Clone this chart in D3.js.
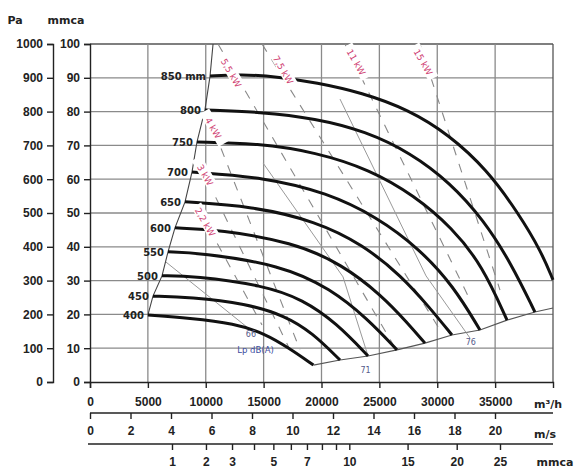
<!DOCTYPE html>
<html>
<head>
<meta charset="utf-8">
<script src="https://cdn.jsdelivr.net/npm/d3@7"></script>
<style>
  body { margin: 0; background: #fff; }
  svg { display: block; font-family: "DejaVu Sans", sans-serif; }
  .tick text { fill: #222; font-weight: bold; }
</style>
</head>
<body>
<div id="chart"></div>
<script>
/*==== DATA (flow m3/h, pressure mmca) ====*/
var paTicks   = [0, 100, 200, 300, 400, 500, 600, 700, 800, 900, 1000];
var mmcaTicks = [0, 10, 20, 30, 40, 50, 60, 70, 80, 90, 100];
var flowTicks = [0, 5000, 10000, 15000, 20000, 25000, 30000, 35000];
var gridFlow  = [5000, 10000, 15000, 20000, 25000, 30000, 35000, 40000];
var speedTicks = [0, 2, 4, 6, 8, 10, 12, 14, 16, 18, 20];
var dynTicks   = [1, 2, 3, 4, 5, 6, 7, 8, 9, 10, 15, 20, 25];
var dynLabels  = [1, 2, 3, 5, 7, 10, 15, 20, 25];

var fanNames = ["400", "450", "500", "550", "600", "650", "700", "750", "800", "850 mm"];
var fan400 = [[5000,19.8],[8600,18.9],[12500,17.3],[15100,14.3],[17200,10.0],[19300,5.0]];
var fan450 = [[5440,25.4],[8640,25.1],[13500,23.2],[16850,19.6],[19200,14.6],[21600,6.5]];
var fan500 = [[6220,31.4],[9000,31.4],[15000,28.6],[18400,24.4],[21300,17.4],[24020,7.7]];
var fan550 = [[6740,38.5],[9500,38.2],[16500,34.6],[20800,27.6],[24000,18.6],[26520,9.5]];
var fan600 = [[7340,45.6],[11230,45.0],[17500,41.4],[21800,34.8],[25200,25.6],[27400,17.6],[28940,11.5]];
var fan650 = [[8210,53.3],[14000,52.0],[19500,47.6],[23600,40.6],[26900,31.4],[29400,21.8],[31270,13.9]];
var fan700 = [[8810,62.1],[15000,60.6],[20500,56.0],[24800,48.8],[28400,39.6],[31400,28.4],[33690,15.4]];
var fan750 = [[9240,71.0],[14500,70.6],[19500,68.0],[24200,62.8],[28000,55.2],[31300,45.6],[33900,34.4],[36030,18.3]];
var fan800 = [[9930,80.5],[14690,79.9],[19500,78.0],[23800,74.2],[27700,67.8],[31100,59.0],[34000,48.0],[36400,35.0],[38440,20.7]];
var fan850 = [[10370,90.5],[12960,91.1],[16410,90.2],[19500,88.6],[23500,85.6],[27500,80.6],[31000,73.2],[34300,62.8],[37000,50.0],[39000,38.5],[40000,30.2]];
var fanCurves = [fan400, fan450, fan500, fan550, fan600, fan650, fan700, fan750, fan800, fan850];

// left limit and lower limit of the field
var leftLimit  = [[5000,19.8],[5440,25.4],[6220,31.4],[6740,38.5],[7340,45.6],[8210,53.3],[8810,62.1],[9240,71.0],[9930,80.5],[10370,90.5],[10630,100]];
var lowerLimit = [[19300,5.0],[21600,6.5],[24020,7.7],[26520,9.5],[28940,11.5],[31270,13.9],[33690,15.4],[36030,18.3],[38440,20.7],[40000,21.9]];

// motor power lines (dashed) and their labels
var kwNames  = ["2,2 kW", "3 kW", "4 kW", "5,5 kW", "7,5 kW", "11 kW", "15 kW"];
var kwLines  = [
  [[9500,50.3],[14860,16.9]],
  [[9500,64.2],[17280,9.5]],
  [[10190,79.0],[18140,9.5]],
  [[11060,100],[26350,10.1]],
  [[14860,100],[30240,15.4]],
  [[22030,100],[32830,24.3]],
  [[28510,100],[35420,27.2]]
];
var kwLabelAt = [[9930,47.3],[9930,61.2],[10630,75.1],[12180,91.4],[16670,92.3],[22980,94.6],[28770,94.6]];

// sound level lines
var dbNames = ["66", "71", "76"];
var dbLines = [
  [[6560,35.5],[13650,16.0]],
  [[14950,64.8],[21860,31.1],[24020,7.7]],
  [[21600,83.7],[29030,31.4],[32830,13.0]]
];
var dbLabelAt = [[13900,13.2],[23800,2.8],[32900,11.0]];

/*==== SVG ====*/
var svgWidth = 581, svgHeight = 472;
var svg = d3.select("#chart").append("svg")
  .attr("width", svgWidth)
  .attr("height", svgHeight);

/*==== SCALES ====*/
var x = d3.scaleLinear().domain([0, 40000]).range([90, 553]);
var y = d3.scaleLinear().domain([0, 100]).range([382, 44]);
var yPa = d3.scaleLinear().domain([0, 1000]).range([382, 44]);
var xSpeed = d3.scaleLinear().domain([0, 20]).range([90, 495]);
var xDyn = d3.scaleSqrt().domain([0, 25]).range([90, 500]);

var ink = "#222";
var gridCol = "#8a8a8a";

// grid
svg.append("g").selectAll("line").data(mmcaTicks.slice(1)).enter().append("line")
  .attr("x1", x(0)).attr("x2", x(40000))
  .attr("y1", d => y(d)).attr("y2", d => y(d))
  .attr("stroke", d => d === 100 ? "#555" : gridCol)
  .attr("stroke-width", 1.3);

svg.append("g").selectAll("line").data(gridFlow).enter().append("line")
  .attr("x1", d => x(d)).attr("x2", d => x(d))
  .attr("y1", y(0)).attr("y2", y(100))
  .attr("stroke", d => d === 40000 ? "#555" : gridCol)
  .attr("stroke-width", 1.3);

// Pa axis
var paAxis = svg.append("g")
  .attr("transform", "translate(53,0)")
  .call(d3.axisLeft(yPa).tickValues(paTicks).tickSize(6).tickPadding(4).tickFormat(d3.format("d")));
paAxis.selectAll("text").style("font-size", "12px");

// mmca axis
var mmAxis = svg.append("g")
  .attr("transform", "translate(90,0)")
  .call(d3.axisLeft(y).tickValues(mmcaTicks).tickSize(6).tickPadding(4));
mmAxis.selectAll("text").style("font-size", "12px");

// m3/h axis
var qAxis = svg.append("g")
  .attr("transform", "translate(0,382)")
  .call(d3.axisBottom(x).tickValues(flowTicks).tickSize(6).tickPadding(9).tickFormat(d3.format("d")));
qAxis.selectAll("text").style("font-size", "12px");

// m/s axis
var sAxis = svg.append("g")
  .attr("transform", "translate(0,413)")
  .call(d3.axisBottom(xSpeed).tickValues(speedTicks).tickSize(6).tickPadding(7));
sAxis.select(".domain").attr("d", "M90,0H553");
sAxis.selectAll("text").style("font-size", "12px");

// mmca dynamic pressure axis
var dAxis = svg.append("g")
  .attr("transform", "translate(0,444)")
  .call(d3.axisBottom(xDyn).tickValues(dynTicks).tickSize(6).tickPadding(7)
    .tickFormat(d => dynLabels.indexOf(d) >= 0 ? d : ""));
dAxis.select(".domain").attr("d", "M88,0H553");
dAxis.selectAll("text").style("font-size", "12px");

svg.selectAll(".domain, .tick line").attr("stroke", ink).attr("stroke-width", 1.4);

// unit labels
var units = [["Pa", 15, 24], ["mmca", 66, 24], ["m\u00b3/h", 548, 408], ["m/s", 545, 438], ["mmca", 555, 466]];
svg.append("g").selectAll("text").data(units).enter().append("text")
  .attr("x", d => d[1]).attr("y", d => d[2])
  .attr("text-anchor", "middle")
  .attr("fill", ink).attr("font-weight", "bold").attr("font-size", "11px")
  .text(d => d[0]);

/*==== FIELD LIMITS, DB + KW LINES ====*/
var line = d3.line().x(d => x(d[0])).y(d => y(d[1]));

svg.append("path").datum(leftLimit).attr("d", line)
  .attr("fill", "none").attr("stroke", "#444").attr("stroke-width", 1.1);
svg.append("path").datum(lowerLimit).attr("d", line)
  .attr("fill", "none").attr("stroke", "#555").attr("stroke-width", 1.1);

svg.append("g").selectAll("path").data(dbLines).enter().append("path")
  .attr("d", line).attr("fill", "none")
  .attr("stroke", "#999").attr("stroke-width", 1);

svg.append("g").selectAll("path").data(kwLines).enter().append("path")
  .attr("d", line).attr("fill", "none")
  .attr("stroke", "#888").attr("stroke-width", 1.1)
  .attr("stroke-dasharray", "9,9");

/*==== FAN CURVES ====*/
var curveLine = d3.line().x(d => x(d[0])).y(d => y(d[1])).curve(d3.curveBasis);
svg.append("g").selectAll("path").data(fanCurves).enter().append("path")
  .attr("d", curveLine).attr("fill", "none")
  .attr("stroke", "#111").attr("stroke-width", 3);

// size labels to the left of each curve start
svg.append("g").selectAll("text").data(fanCurves).enter().append("text")
  .attr("x", d => x(d[0][0]) - 4)
  .attr("y", d => y(d[0][1]) + 4)
  .attr("text-anchor", "end")
  .attr("fill", ink).attr("font-weight", "bold").attr("font-size", "10px")
  .text((d, i) => fanNames[i]);

// kW labels, boxed in white so they cut the curves
var kw = svg.append("g").selectAll("g").data(kwLabelAt).enter().append("g")
  .attr("transform", d => `translate(${x(d[0])},${y(d[1])}) rotate(60)`);
kw.append("rect").attr("x", -19).attr("y", -6.5).attr("width", 38).attr("height", 11).attr("fill", "#fff");
kw.append("text").attr("text-anchor", "middle").attr("y", 3)
  .attr("font-size", "9px").attr("fill", "#cf3f73")
  .text((d, i) => kwNames[i]);

// sound level labels
svg.append("g").selectAll("text").data(dbLabelAt).enter().append("text")
  .attr("x", d => x(d[0])).attr("y", d => y(d[1]))
  .attr("text-anchor", "middle").attr("font-size", "8px").attr("fill", "#555a8a")
  .text((d, i) => dbNames[i]);
svg.append("text").attr("x", x(14300)).attr("y", y(8.5))
  .attr("text-anchor", "middle").attr("font-size", "8.5px").attr("fill", "#3a4ca0")
  .text("Lp dB(A)");
</script>
</body>
</html>
